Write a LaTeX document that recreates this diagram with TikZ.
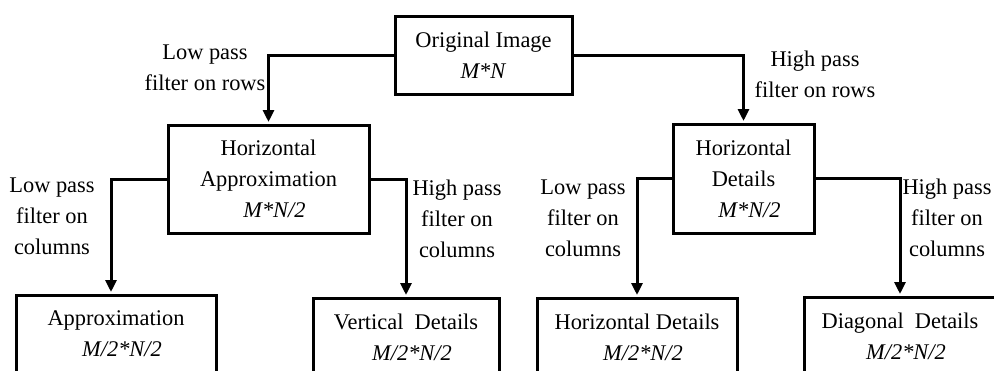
\documentclass[tikz,border=0pt]{standalone}
\usepackage{fontspec}
\setmainfont{Liberation Serif}
\usetikzlibrary{arrows.meta}
\newcommand{\sizetxt}[1]{\hspace*{12pt}\textit{#1}}

\begin{document}
\begin{tikzpicture}[x=1pt,y=-1pt,
    font=\fontsize{22.4}{31}\selectfont,
    box/.style={draw,line width=3pt,align=center,inner sep=0pt},
    lbl/.style={align=center,inner sep=0pt},
    arr/.style={line width=3pt,-{Triangle[length=12pt,width=11pt]},shorten >=1.5pt}]
    \useasboundingbox (0,0) rectangle (994,370);%
    \clip (0,0) rectangle (994,370);%

    \node[box,minimum width=177pt,minimum height=78pt] (orig) at (483.5,55) {Original Image\\\textit{M*N}};%

    \node[box,minimum width=201pt,minimum height=108pt] (HA) at (268.5,179) {Horizontal\\Approximation\\\sizetxt{M*N/2}};%
    \node[box,minimum width=141pt,minimum height=109pt] (HD) at (743.5,178.5) {Horizontal\\Details\\\sizetxt{M*N/2}};%

    \node[box,minimum width=200pt,minimum height=78pt] (ap) at (116,334) {Approximation\\\sizetxt{M/2*N/2}};%
    \node[box,minimum width=186pt,minimum height=78pt] (vd) at (406,337) {Vertical\ \ Details\\\sizetxt{M/2*N/2}};%
    \node[box,minimum width=200pt,minimum height=78pt] (hdd) at (637,337) {Horizontal Details\\\sizetxt{M/2*N/2}};%
    \node[box,minimum width=192pt,minimum height=78pt] (dd) at (900,336) {Diagonal\ \ Details\\\sizetxt{M/2*N/2}};%

    \draw[arr] (orig.west) -| (HA.north);%
    \draw[arr] (orig.east) -| (HD.north);%
    \draw[arr] (HA.west) -| ([xshift=-5pt]ap.north);%
    \draw[arr] (HA.east) -| (vd.north);%
    \draw[arr] (HD.west) -| (hdd.north);%
    \draw[arr] (HD.east) -| (dd.north);%

    \node[lbl] (lowrows) at (205,68) {Low pass\\filter on rows};%
    \node[lbl] (highrows) at (815,74) {High pass\\filter on rows};%
    \node[lbl] (lowcolsA) at (52,216) {Low pass\\filter on\\columns};%
    \node[lbl] (highcolsA) at (457,219) {High pass\\filter on\\columns};%
    \node[lbl] (lowcolsD) at (583,218) {Low pass\\filter on\\columns};%
    \node[lbl] (highcolsD) at (947,218) {High pass\\filter on\\columns};%
  \end{tikzpicture}
\end{document}
